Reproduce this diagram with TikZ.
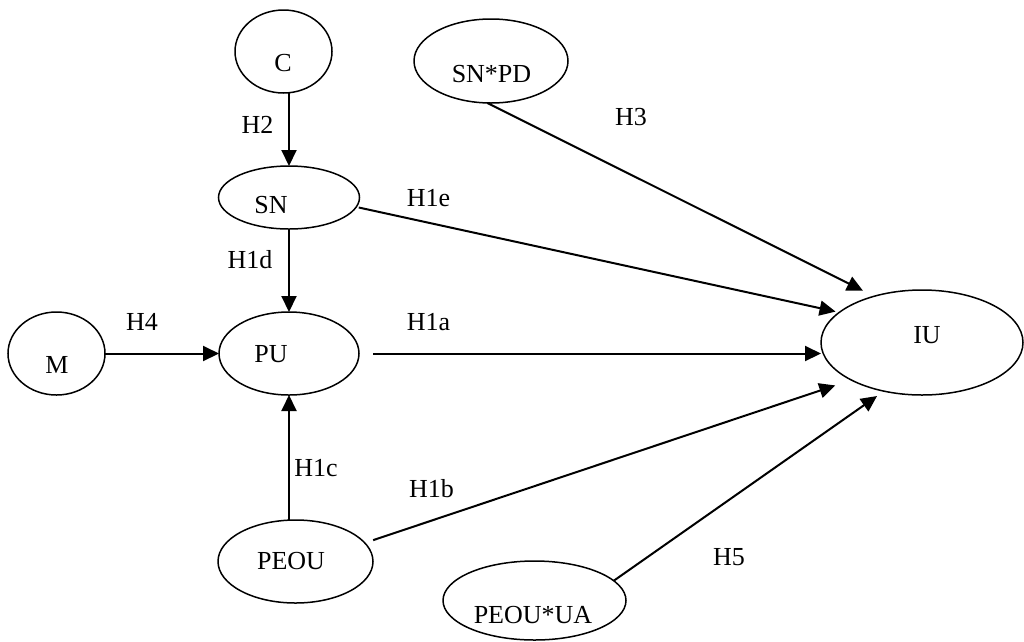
\documentclass[tikz,border=0pt]{standalone}
\usepackage{fontspec}
\setmainfont{Liberation Serif}
\usetikzlibrary{shapes.geometric,arrows.meta}
\begin{document}
\begin{tikzpicture}[x=1pt,y=-1pt,
  construct/.style={draw, ellipse, line width=1.5pt, inner sep=0pt, outer sep=0pt},
  txt/.style={anchor=base, inner sep=0pt, outer sep=0pt, font=\fontsize{26}{30}\selectfont},
  link/.style={line width=2pt, -{Triangle[length=16pt,width=15pt]}}
]
\useasboundingbox (0,0) rectangle (1024,641);

% constructs
\node[construct, minimum width=97pt,  minimum height=83pt]  (C)      at (283.5,51.5)  {};
\node[construct, minimum width=154pt, minimum height=84pt]  (SNPD)   at (491,61)      {};
\node[construct, minimum width=141pt, minimum height=63pt]  (SN)     at (289,197.5)   {};
\node[construct, minimum width=97pt,  minimum height=83pt]  (M)      at (56.5,353.5)  {};
\node[construct, minimum width=140pt, minimum height=83pt]  (PU)     at (289,353.5)   {};
\node[construct, minimum width=202pt, minimum height=105pt] (IU)     at (922,342.5)   {};
\node[construct, minimum width=155pt, minimum height=83pt]  (PEOU)   at (295.5,561.5) {};
\node[construct, minimum width=183pt, minimum height=79pt]  (PEOUUA) at (534.5,600.5) {};

% construct names
\node[txt] (Ct)      at (283,71)    {C};
\node[txt] (SNPDt)   at (491.5,82)  {SN*PD};
\node[txt] (SNt)     at (271,213)   {SN};
\node[txt] (Mt)      at (57,373)    {M};
\node[txt] (PUt)     at (271,362)   {PU};
\node[txt] (IUt)     at (927,343)   {IU};
\node[txt] (PEOUt)   at (291,569)   {PEOU};
\node[txt] (PEOUUAt) at (533,623)   {PEOU*UA};

% paths
\draw[link] (SN.north |- C.south) -- (SN.north);
\draw[link] (SN.south) -- (PU.north);
\draw[link] (M.east) -- (PU.west);
\draw[link] (PU.south |- PEOU.north) -- (PU.south);
\draw[link, shorten >=12.5pt] (SNPD.-95) -- (IU.136.8);
\draw[link, shorten <=2.6pt, shorten >=3.8pt] (SN.-8.4) -- (IU.160.4);
\draw[link, shorten <=14pt] (PU.east) -- (PU.east -| IU.west);
\draw[link, shorten <=8.8pt, shorten >=17pt] (PEOU.15.1) -- (IU.-152.7);
\draw[link, shorten >=8.5pt] (PEOUUA.14.6) -- (IU.-128);

% hypothesis labels
\node[txt] (H2)  at (257.5,133) {H2};
\node[txt] (H3)  at (631,125)   {H3};
\node[txt] (H1e) at (428.5,206) {H1e};
\node[txt] (H1d) at (250,268)   {H1d};
\node[txt] (H4)  at (142,330)   {H4};
\node[txt] (H1a) at (428.5,330) {H1a};
\node[txt] (H1c) at (316,476)   {H1c};
\node[txt] (H1b) at (431.5,497) {H1b};
\node[txt] (H5)  at (729,565)   {H5};
\end{tikzpicture}
\end{document}
